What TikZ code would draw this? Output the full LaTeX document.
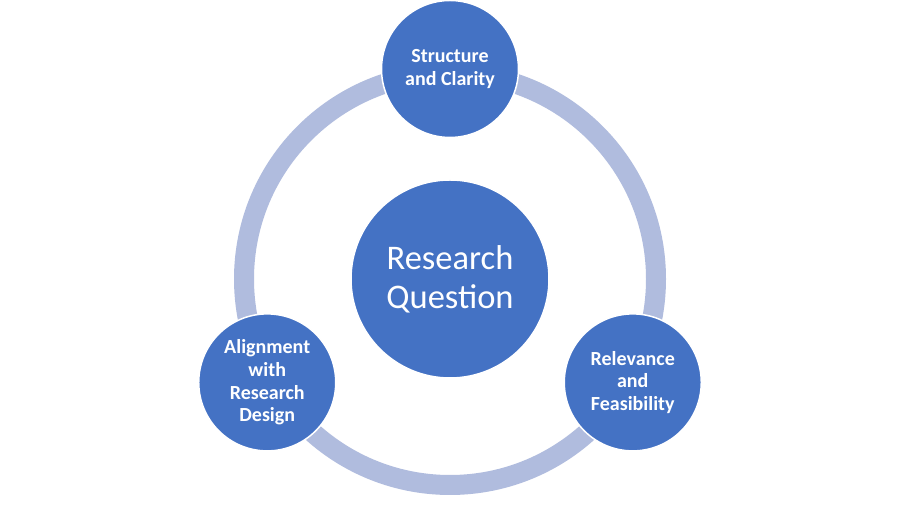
\documentclass[tikz,border=0pt]{standalone}
\usepackage{fontspec}
\setmainfont{Carlito}
\usetikzlibrary{calc}
\definecolor{nodeblue}{RGB}{68,114,196}
\definecolor{ringblue}{RGB}{176,188,222}
\begin{document}
\begin{tikzpicture}[x=1pt,y=1pt,
  ring/.style={draw=ringblue,line width=20pt},
  bigcirc/.style={circle,fill=nodeblue,draw=white,line width=1.5pt,minimum size=198pt,inner sep=0pt,
    text=white,align=center,font=\fontsize{34.5}{39}\selectfont},
  smallcirc/.style={circle,fill=nodeblue,draw=white,line width=1.5pt,minimum size=137pt,inner sep=0pt,
    text=white,align=center,font=\fontsize{20}{22.8}\selectfont\bfseries}]
\path[use as bounding box,fill=white] (0,0) rectangle (900,526);
\coordinate (c) at (450,247);
\draw[ring] (c) circle (206);
\node[bigcirc] (rq) at (c) {Research\\Question};
\node[smallcirc] (sc) at ($(c)+(90:210)$) {Structure\\and Clarity};
\node[smallcirc] (rf) at ($(c)+(-29.5:210)$) {Relevance\\and\\Feasibility};
\node[smallcirc] (ad) at ($(c)+(209.5:210)$) {Alignment\\with\\Research\\Design};
\end{tikzpicture}
\end{document}
